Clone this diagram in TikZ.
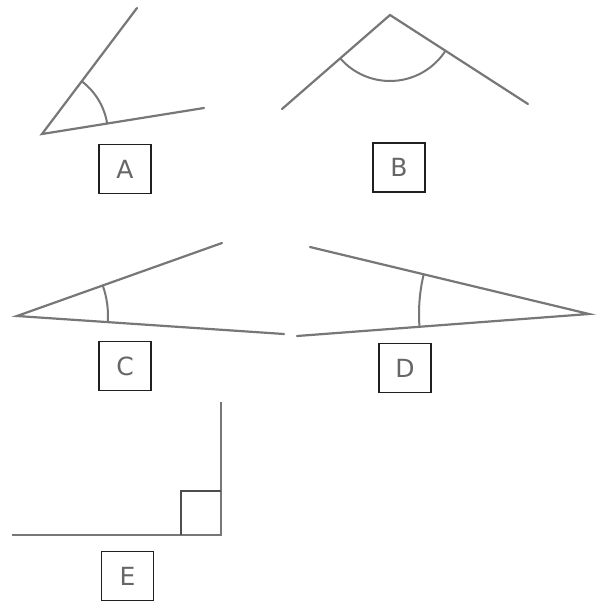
\documentclass[tikz,border=0pt]{standalone}
\usepackage{fontspec}
\setmainfont{DejaVu Sans}
\usetikzlibrary{angles}
\definecolor{raygray}{HTML}{777777}
\definecolor{txtgray}{HTML}{666666}
\definecolor{boxblack}{HTML}{202020}
\begin{document}
\begin{tikzpicture}[x=1pt,y=1pt,
  ray/.style={draw=raygray,line width=2.2pt,line cap=round},
  anglearc/.style={draw=raygray,line width=2pt},
  lbl/.style={draw=boxblack,line width=1.4pt,minimum width=52pt,minimum height=49pt,inner sep=0pt,text=txtgray,font=\fontsize{25}{25}\selectfont}]
\useasboundingbox[fill=white] (0,0) rectangle (597,-608);
% A
\coordinate (A) at (42,-134);
\coordinate (A1) at (137,-8);
\coordinate (A2) at (204,-108);
\draw[ray] (A1) -- (A) -- (A2);
\pic[anglearc,angle radius=66pt] {angle=A2--A--A1};
\node[lbl] (la) at (125,-169) {A};
% B
\coordinate (B) at (390,-15);
\coordinate (B1) at (282,-109);
\coordinate (B2) at (528,-104);
\draw[ray] (B1) -- (B) -- (B2);
\pic[anglearc,angle radius=66pt] {angle=B1--B--B2};
\node[lbl] (lb) at (399,-167.5) {B};
% C
\coordinate (C) at (17,-316);
\coordinate (C1) at (222,-243);
\coordinate (C2) at (284,-334);
\draw[ray] (C1) -- (C) -- (C2);
\pic[anglearc,angle radius=91pt] {angle=C2--C--C1};
\node[lbl] (lc) at (125,-366) {C};
% D
\coordinate (D) at (589,-314);
\coordinate (D1) at (310,-247);
\coordinate (D2) at (297,-336);
\draw[ray] (D1) -- (D) -- (D2);
\pic[anglearc,angle radius=170pt] {angle=D1--D--D2};
\node[lbl] (ld) at (405,-368) {D};
% E
\coordinate (E) at (221,-535);
\coordinate (E1) at (221,-402);
\coordinate (E2) at (12,-535);
\coordinate (Es) at (181,-491);
\draw[ray,line cap=butt] (E1) -- (E) -- (E2);
\draw[draw=boxblack!80,line width=1.6pt] (Es |- E) -- (Es) -- (E |- Es);
\node[lbl] (le) at (127.5,-576) {E};
\end{tikzpicture}
\end{document}
